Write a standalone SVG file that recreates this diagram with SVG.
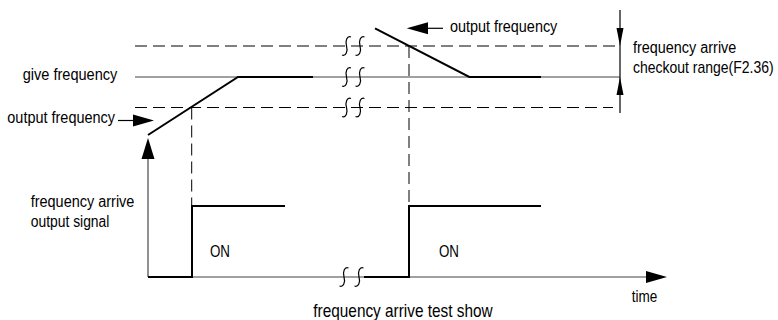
<svg xmlns="http://www.w3.org/2000/svg" width="778" height="320" viewBox="0 0 778 320">
<defs>
<style>
.t{font-family:"Liberation Sans",Arial,sans-serif;font-size:16px;fill:#000}
.tt{font-family:"Liberation Sans",Arial,sans-serif;font-size:19px;fill:#000}
.dash{stroke:#000;stroke-width:1;stroke-dasharray:12,6;fill:none}
.gray{stroke:#808080;stroke-width:1.5;fill:none}
.blk{stroke:#000;stroke-width:2;fill:none}
.brk{stroke:#000;stroke-width:1.2;fill:none}
.ah{fill:#000;stroke:none}
</style>
<path id="br" d="M4.5,-9 C0.5,-10.5 -1.5,-5 0,0 C1.5,5 -0.5,10.5 -4.5,9"/>
</defs>
<rect width="778" height="320" fill="#fff"/>
<g id="connectors">
<line class="dash" x1="135" y1="46" x2="620" y2="46"/>
<line class="gray" x1="135" y1="77" x2="620" y2="77"/>
<line class="dash" x1="135" y1="107.5" x2="613" y2="107.5"/>
<line class="dash" x1="191.7" y1="107.5" x2="191.7" y2="206"/>
<line class="dash" x1="409" y1="46" x2="409" y2="206"/>
<polyline class="blk" points="148,135 238,77 313,77"/>
<polyline class="blk" points="375,28.3 469.3,77 541,77"/>
<line class="gray" x1="148" y1="277" x2="648" y2="277"/>
<polygon class="ah" points="646,271 667,277 646,283"/>
<line x1="148" y1="156" x2="148" y2="277" stroke="#555" stroke-width="1.3"/>
<polygon class="ah" points="141.5,159 148,138 154.5,159"/>
<polyline class="blk" points="148,277 192,277 192,206 285,206"/>
<polyline class="blk" points="364,277 409,277 409,206 541,206"/>
<line x1="118" y1="120.5" x2="134" y2="120.5" stroke="#000" stroke-width="1.2"/>
<polygon class="ah" points="133,114.5 154,120.5 133,126.5"/>
<line x1="427" y1="28.3" x2="443" y2="28.3" stroke="#000" stroke-width="1.2"/>
<polygon class="ah" points="428,22.3 406.7,28.3 428,34.3"/>
<line x1="620" y1="10" x2="620" y2="113" stroke="#000" stroke-width="1.2"/>
<polygon class="ah" points="616.5,28 623.5,28 620,46"/>
<polygon class="ah" points="616.5,95 623.5,95 620,77"/>
<g class="brk">
<use href="#br" x="346.5" y="46"/><use href="#br" x="360" y="46"/>
<use href="#br" x="346.5" y="77"/><use href="#br" x="360" y="77"/>
<use href="#br" x="346.5" y="107.5"/><use href="#br" x="360" y="107.5"/>
<use href="#br" x="344" y="277"/><use href="#br" x="359" y="277"/>
</g>
</g>
<g id="labels">
<text class="t" x="22.7" y="80" textLength="94.6" lengthAdjust="spacingAndGlyphs">give frequency</text>
<text class="t" x="7.3" y="123" textLength="107.7" lengthAdjust="spacingAndGlyphs">output frequency</text>
<text class="t" x="30.7" y="206.5" textLength="103.7" lengthAdjust="spacingAndGlyphs">frequency arrive</text>
<text class="t" x="30.7" y="226.5" textLength="78.7" lengthAdjust="spacingAndGlyphs">output signal</text>
<text class="t" x="210" y="256.5" textLength="20" lengthAdjust="spacingAndGlyphs">ON</text>
<text class="t" x="439" y="256.5" textLength="20" lengthAdjust="spacingAndGlyphs">ON</text>
<text class="t" x="450" y="31.5" textLength="107.3" lengthAdjust="spacingAndGlyphs">output frequency</text>
<text class="t" x="633" y="53.3" textLength="103.3" lengthAdjust="spacingAndGlyphs">frequency arrive</text>
<text class="t" transform="translate(633,73.3) scale(0.875,1)" x="0" y="0">checkout range(F2.36)</text>
<text class="t" x="631.7" y="301.5" textLength="25.6" lengthAdjust="spacingAndGlyphs">time</text>
<text class="tt" x="313.3" y="316.5" textLength="179.4" lengthAdjust="spacingAndGlyphs">frequency arrive test show</text>
</g>
</svg>
